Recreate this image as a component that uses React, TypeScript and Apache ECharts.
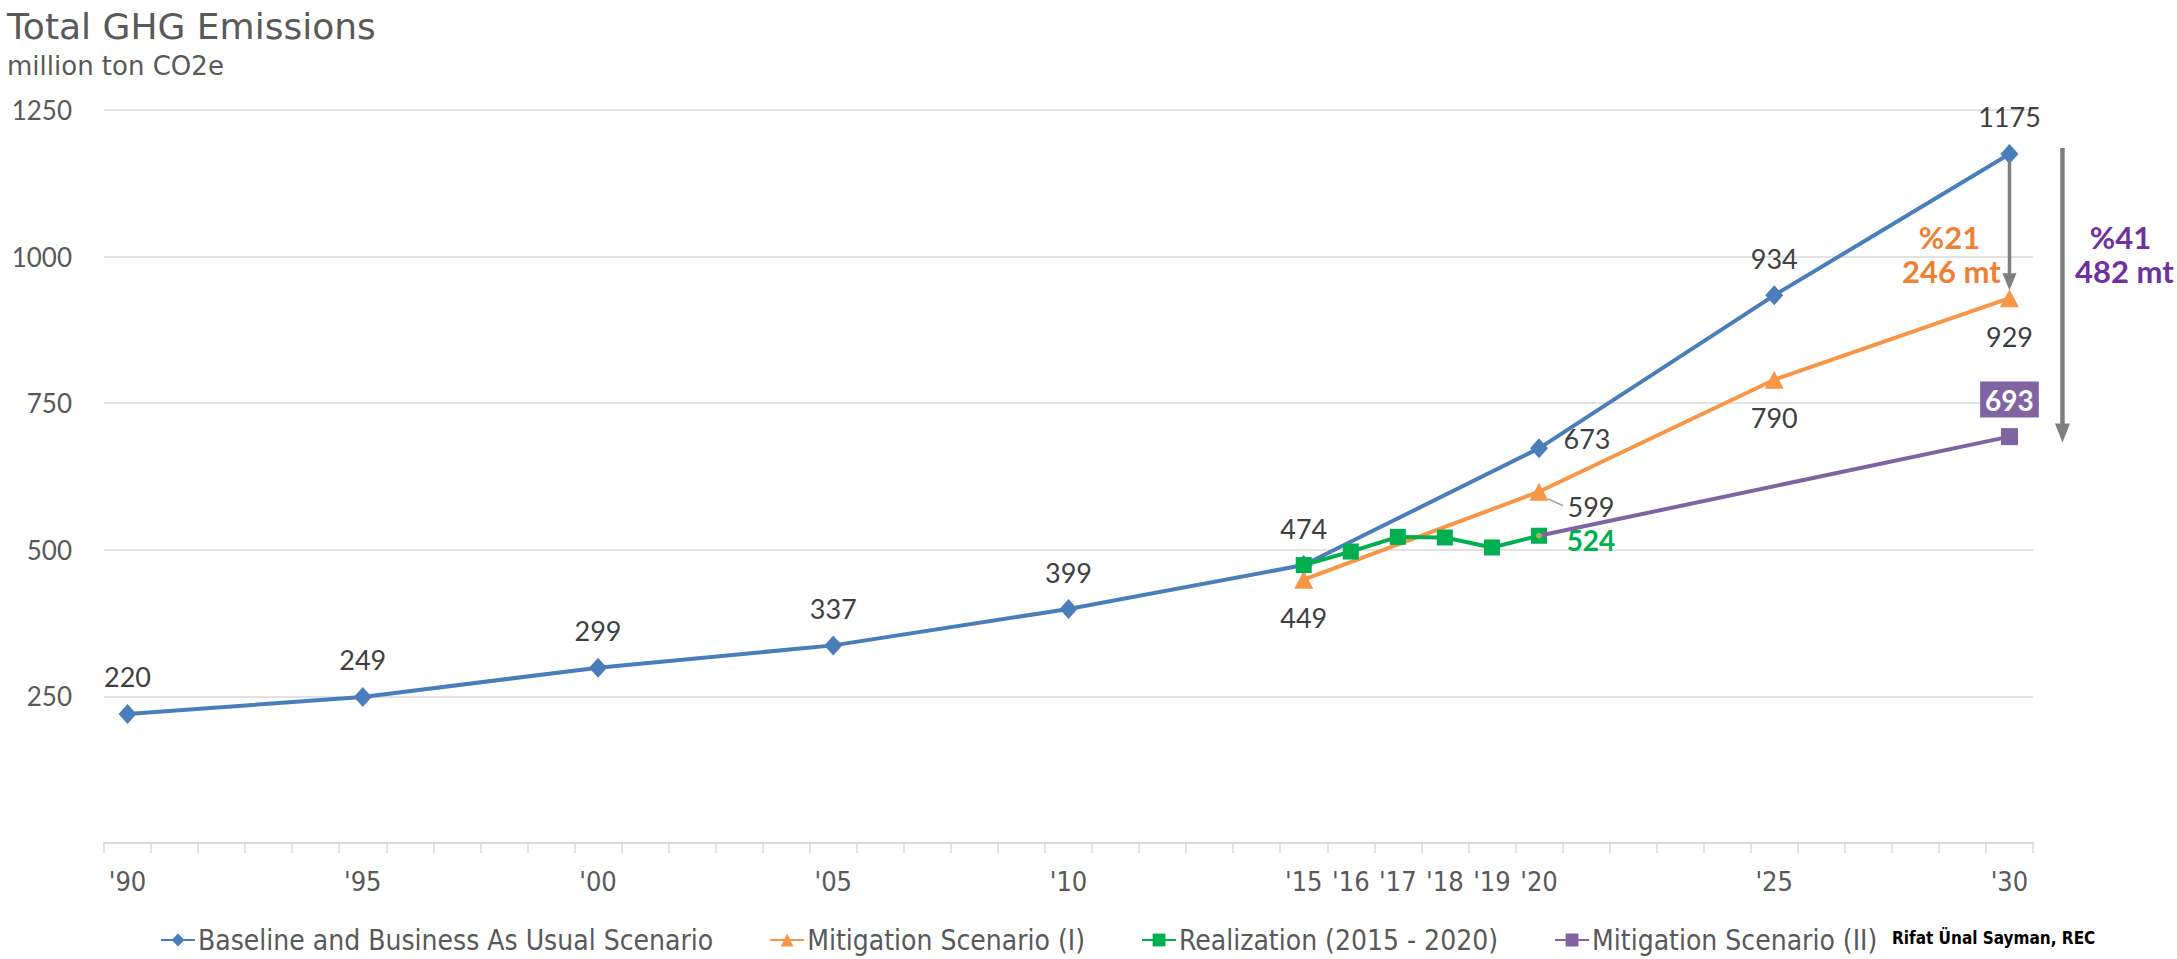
import { useEffect, useRef } from 'react';
import * as echarts from 'echarts';

// Category axis: one slot per year
const YEARS = [
  '1990', '1991', '1992', '1993', '1994', '1995', '1996', '1997', '1998', '1999',
  '2000', '2001', '2002', '2003', '2004', '2005', '2006', '2007', '2008', '2009',
  '2010', '2011', '2012', '2013', '2014', '2015', '2016', '2017', '2018', '2019',
  '2020', '2021', '2022', '2023', '2024', '2025', '2026', '2027', '2028', '2029', '2030',
];

// Years that carry a tick label, and the label drawn for each
const LABELLED_YEARS = ['1990', '1995', '2000', '2005', '2010', '2015', '2016', '2017', '2018', '2019', '2020', '2025', '2030'];
const TICK_LABELS = ["'90", "'95", "'00", "'05", "'10", "'15", "'16", "'17", "'18", "'19", "'20", "'25", "'30"];

const Y_TICKS = [0, 250, 500, 750, 1000, 1250];

const BASELINE_YEARS = ['1990', '1995', '2000', '2005', '2010', '2015', '2020', '2025', '2030'];
const BASELINE = [220, 249, 299, 337, 399, 474, 673, 934, 1175];

const MITIGATION_I_YEARS = ['2015', '2020', '2025', '2030'];
const MITIGATION_I = [449, 599, 790, 929];

const REALIZATION_YEARS = ['2015', '2016', '2017', '2018', '2019', '2020'];
const REALIZATION = [474, 497, 522, 521, 504, 524];

const MITIGATION_II_YEARS = ['2020', '2030'];
const MITIGATION_II = [524, 693];

// Reduction brackets at 2030
const REDUCTION_I = { pct: '%21', amount: '246 mt' };
const REDUCTION_II = { pct: '%41', amount: '482 mt' };

const BLUE = '#4A7EBB';
const ORANGE = '#F79646';
const GREEN = '#00B050';
const PURPLE = '#8064A2';
const TEXT_ORANGE = '#EE8034';
const TEXT_PURPLE = '#7030A0';
const ARROW_GREY = '#7F7F7F';
const LABEL_GREY = '#404040';
const AXIS_GREY = '#595959';

const FONT = "Lato, 'Open Sans', sans-serif";
const NARROW = "'Liberation Sans Narrow', 'DejaVu Sans Condensed', 'Roboto Condensed', Lato, sans-serif";
const TITLE_FONT = "'DejaVu Sans', 'Open Sans', sans-serif";

type Decor = Record<string, any>;

function spread(years: string[], values: number[], decor: Record<string, Decor> = {}) {
  const out: any[] = YEARS.map(() => null);
  years.forEach((y, i) => {
    const idx = YEARS.indexOf(y);
    const extra = decor[y];
    out[idx] = extra ? { value: values[i], ...extra } : values[i];
  });
  return out;
}

const tickLabel = (year: string) => {
  const i = LABELLED_YEARS.indexOf(year);
  return i >= 0 ? TICK_LABELS[i] : '';
};

export default function App() {
  const ref = useRef<HTMLDivElement>(null);

  useEffect(() => {
    document.body.style.margin = '0';
    const chart = echarts.init(ref.current!, null, { renderer: 'svg' });

    const valueLabel = {
      show: true,
      position: 'inside',
      fontSize: 27,
      fontFamily: FONT,
      color: LABEL_GREY,
    };

    const option: any = {
      animation: false,
      backgroundColor: '#ffffff',
      grid: { left: 104, right: 144, top: 110, bottom: 116 },
      xAxis: {
        type: 'category',
        data: YEARS,
        boundaryGap: true,
        axisLine: { show: true, lineStyle: { color: '#D9D9D9', width: 2 } },
        axisTick: { show: true, interval: 0, length: 10, lineStyle: { color: '#D9D9D9', width: 1.5 } },
        axisLabel: {
          interval: 0,
          margin: 25,
          fontSize: 27,
          fontFamily: NARROW,
          color: AXIS_GREY,
          formatter: (v: string) => tickLabel(v),
        },
        splitLine: { show: false },
      },
      yAxis: {
        type: 'value',
        min: Y_TICKS[0],
        max: Y_TICKS[Y_TICKS.length - 1],
        interval: Y_TICKS[1] - Y_TICKS[0],
        axisLine: { show: false },
        axisTick: { show: false },
        axisLabel: {
          margin: 32,
          fontSize: 26,
          fontFamily: FONT,
          color: AXIS_GREY,
          formatter: (v: number) => (v === 0 ? '' : String(v)),
        },
        splitLine: { lineStyle: { color: '#D9D9D9', width: 1.5 } },
      },
      legend: {
        left: 155,
        top: 921,
        itemWidth: 34,
        itemHeight: 16,
        itemGap: 56,
        textStyle: { fontSize: 28, fontFamily: NARROW, color: AXIS_GREY, padding: [0, 0, 0, -2] },
        data: ['Baseline and Business As Usual Scenario', 'Mitigation Scenario (I)', 'Realization (2015 - 2020)', 'Mitigation Scenario (II)'],
      },
      series: [
        {
          name: 'Baseline and Business As Usual Scenario',
          type: 'line',
          connectNulls: true,
          symbol: 'diamond',
          symbolSize: [18, 20],
          lineStyle: { color: BLUE, width: 4 },
          itemStyle: { color: BLUE },
          label: { ...valueLabel, offset: [0, -37] },
          data: spread(BASELINE_YEARS, BASELINE, {
            '2020': { label: { offset: [48, -10] } },
          }),
          z: 2,
        },
        {
          name: 'Mitigation Scenario (I)',
          type: 'line',
          connectNulls: true,
          symbol: 'triangle',
          symbolSize: [19, 18],
          lineStyle: { color: ORANGE, width: 4 },
          itemStyle: { color: ORANGE },
          label: { ...valueLabel, offset: [0, 38] },
          data: spread(MITIGATION_I_YEARS, MITIGATION_I, {
            '2020': { label: { offset: [52, 15] } },
          }),
          z: 3,
        },
        {
          name: 'Realization (2015 - 2020)',
          type: 'line',
          connectNulls: true,
          symbol: 'rect',
          symbolSize: 16,
          lineStyle: { color: GREEN, width: 4 },
          itemStyle: { color: GREEN },
          label: { show: false },
          data: spread(REALIZATION_YEARS, REALIZATION, {
            '2020': {
              label: {
                show: true,
                position: 'inside',
                offset: [52, 4],
                fontSize: 28,
                fontWeight: 'bold',
                fontFamily: FONT,
                color: GREEN,
              },
            },
          }),
          z: 4,
        },
        {
          name: 'Mitigation Scenario (II)',
          type: 'line',
          connectNulls: true,
          symbol: 'rect',
          symbolSize: 17,
          lineStyle: { color: PURPLE, width: 4 },
          itemStyle: { color: PURPLE },
          label: { show: false },
          data: spread(MITIGATION_II_YEARS, MITIGATION_II, {
            '2020': { symbol: 'circle', symbolSize: 6, itemStyle: { color: '#9BBB59' } },
            '2030': {
              label: {
                show: true,
                position: 'inside',
                offset: [0, -37],
                fontSize: 28,
                fontWeight: 'bold',
                fontFamily: FONT,
                color: '#ffffff',
                backgroundColor: PURPLE,
                padding: [5, 5, 3, 5],
              },
            },
          }),
          z: 5,
        },
      ],
    };

    chart.setOption(option);

    // Annotations placed through the grid's own scales
    const at = (year: string, v: number) =>
      chart.convertToPixel({ xAxisIndex: 0, yAxisIndex: 0 }, [YEARS.indexOf(year), v]) as number[];

    const arrow = (x: number, yTop: number, yTip: number, shaft: number, headW: number, headH: number) => [
      {
        type: 'line',
        shape: { x1: x, y1: yTop, x2: x, y2: yTip - headH + 1 },
        style: { stroke: ARROW_GREY, lineWidth: shaft },
        z: 10,
      },
      {
        type: 'polygon',
        shape: { points: [[x - headW / 2, yTip - headH], [x + headW / 2, yTip - headH], [x, yTip]] },
        style: { fill: ARROW_GREY },
        z: 10,
      },
    ];

    const top2030 = at('2030', BASELINE[BASELINE.length - 1]);
    const mit1 = at('2030', MITIGATION_I[MITIGATION_I.length - 1]);
    const mit2 = at('2030', MITIGATION_II[MITIGATION_II.length - 1]);
    const p599 = at('2020', MITIGATION_I[1]);
    const x30 = top2030[0];

    const boldText = (x: number, y: number, text: string, color: string) => ({
      type: 'text',
      x,
      y,
      style: {
        text,
        fill: color,
        font: `bold 31px ${FONT}`,
        textAlign: 'center',
        textVerticalAlign: 'middle',
      },
      z: 10,
    });

    const upperY = mit1[1] - 61;
    const lowerY = mit1[1] - 27;

    chart.setOption({
      graphic: [
        {
          type: 'text',
          x: 7,
          y: 26,
          style: {
            text: 'Total GHG Emissions',
            fill: AXIS_GREY,
            font: `36px ${TITLE_FONT}`,
            textVerticalAlign: 'middle',
          },
        },
        {
          type: 'text',
          x: 7,
          y: 66,
          style: {
            text: 'million ton CO2e',
            fill: AXIS_GREY,
            font: `26px ${TITLE_FONT}`,
            textVerticalAlign: 'middle',
          },
        },
        ...arrow(x30, top2030[1] + 6, mit1[1] - 8, 3.5, 14, 17),
        ...arrow(x30 + 53, top2030[1] - 6, mit2[1] + 6, 4.5, 15, 19),
        boldText(x30 - 60, upperY, REDUCTION_I.pct, TEXT_ORANGE),
        boldText(x30 - 58, lowerY, REDUCTION_I.amount, TEXT_ORANGE),
        boldText(x30 + 111, upperY, REDUCTION_II.pct, TEXT_PURPLE),
        boldText(x30 + 115, lowerY, REDUCTION_II.amount, TEXT_PURPLE),
        {
          type: 'line',
          shape: { x1: p599[0] + 9, y1: p599[1] + 7, x2: p599[0] + 24, y2: p599[1] + 14 },
          style: { stroke: '#A6A6A6', lineWidth: 1.5 },
          z: 10,
        },
        {
          type: 'text',
          x: 1892,
          y: 938,
          style: {
            text: 'Rifat Ünal Sayman, REC',
            fill: '#000000',
            font: `bold 17px ${NARROW}`,
            textVerticalAlign: 'middle',
          },
        },
      ],
    });

    return () => chart.dispose();
  }, []);

  return <div ref={ref} style={{ width: 2177, height: 959 }} />;
}
